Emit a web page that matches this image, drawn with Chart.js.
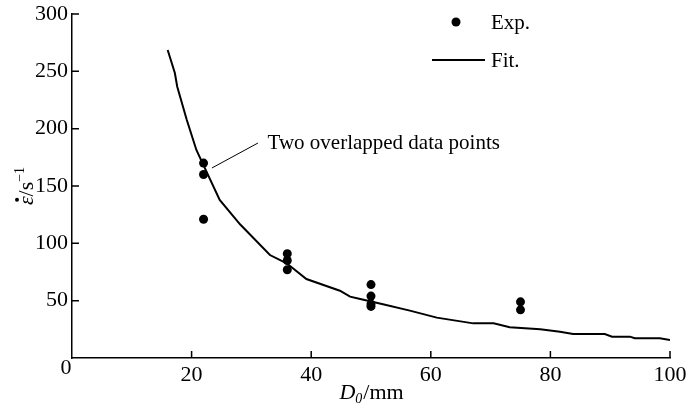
<!DOCTYPE html>
<html>
<head>
<meta charset="utf-8">
<script src="https://cdn.jsdelivr.net/npm/chart.js@4"></script>
<style>
  html, body { margin: 0; padding: 0; background: #fff; }
  #wrap { width: 686px; height: 409px; }
</style>
</head>
<body>
<div id="wrap"><canvas id="chart" width="686" height="409"></canvas></div>
<script>
const EXP_X = [22, 22, 22, 36, 36, 36, 50, 50, 50, 50, 75, 75];
const EXP_Y = [170, 160, 121, 91, 85, 77, 64, 54, 47, 45, 49, 42];

const FIT_X = [16, 17.2, 17.6, 19.2, 20.8, 22, 24.7, 28.1, 33.1, 35.9, 39.2, 44.8, 46.5, 48.2, 52, 56.5, 61, 67.1, 70.5, 73.2, 78.3, 81.6, 83.8, 89.1, 90.3, 93.3, 94.1, 98.3, 100];
const FIT_Y = [268.6, 248.5, 236.6, 207.5, 181.4, 168, 137.8, 116.6, 89.8, 82.6, 68.9, 58.7, 53.5, 51.5, 46.8, 41.3, 35.2, 30.2, 30.2, 26.8, 25, 22.9, 20.9, 20.9, 18.6, 18.6, 17.2, 17.2, 15.7];

const X_TICKS = [20, 40, 60, 80, 100];
const Y_TICKS = [50, 100, 150, 200, 250, 300];

const NOTE = "Two overlapped data points";
const SERIF = "'Liberation Serif', 'Times New Roman', serif";

Chart.defaults.font.family = SERIF;
Chart.defaults.font.size = 22;
Chart.defaults.color = "#000";

// inward ticks, axis titles, legend and the note
const extras = {
  id: "extras",
  afterDraw(chart) {
    const { ctx, scales: { x, y } } = chart;
    const x0 = x.getPixelForValue(0);
    const y0 = y.getPixelForValue(0);
    ctx.save();
    ctx.strokeStyle = "#000";
    ctx.lineWidth = 1.5;
    ctx.beginPath();
    X_TICKS.forEach(v => {
      const px = x.getPixelForValue(v);
      ctx.moveTo(px, y0);
      ctx.lineTo(px, y0 - 7);
    });
    Y_TICKS.forEach(v => {
      const py = y.getPixelForValue(v);
      ctx.moveTo(x0, py);
      ctx.lineTo(x0 + 7, py);
    });
    ctx.stroke();

    ctx.fillStyle = "#000";
    ctx.textBaseline = "middle";
    ctx.textAlign = "center";
    ctx.font = `22px ${SERIF}`;
    ctx.fillText("0", x0 - 6, y0 + 10);

    // x title: D0/mm
    ctx.textAlign = "left";
    ctx.textBaseline = "alphabetic";
    const base = 399;
    ctx.font = `italic 22px ${SERIF}`;
    const wD = ctx.measureText("D").width;
    ctx.font = `italic 14px ${SERIF}`;
    const w0 = ctx.measureText("0").width;
    ctx.font = `22px ${SERIF}`;
    const wR = ctx.measureText("/mm").width;
    let tx = x.getPixelForValue(50) - (wD + w0 + wR) / 2;
    ctx.font = `italic 22px ${SERIF}`;
    ctx.fillText("D", tx, base);
    tx += wD;
    ctx.font = `italic 14px ${SERIF}`;
    ctx.fillText("0", tx, base + 4);
    tx += w0 + 1;
    ctx.font = `22px ${SERIF}`;
    ctx.fillText("/mm", tx, base);

    // y title: ε̇/s⁻¹ rotated
    ctx.save();
    ctx.translate(33, y.getPixelForValue(150));
    ctx.rotate(-Math.PI / 2);
    ctx.font = `italic 22px ${SERIF}`;
    const wE = ctx.measureText("\u03b5").width;
    ctx.font = `22px ${SERIF}`;
    const wS = ctx.measureText("/s").width;
    ctx.font = `14px ${SERIF}`;
    const wM = ctx.measureText("\u22121").width;
    let ty = -(wE + wS + wM) / 2;
    ctx.font = `italic 22px ${SERIF}`;
    ctx.fillText("\u03b5", ty, 0);
    ctx.beginPath();
    ctx.arc(ty + wE / 2 + 1, -16, 2, 0, Math.PI * 2);
    ctx.fill();
    ty += wE;
    ctx.font = `22px ${SERIF}`;
    ctx.fillText("/s", ty, 0);
    ty += wS;
    ctx.font = `14px ${SERIF}`;
    ctx.fillText("\u22121", ty, -9);
    ctx.restore();

    // legend
    ctx.font = `21px ${SERIF}`;
    ctx.textBaseline = "middle";
    ctx.beginPath();
    ctx.arc(456, 22, 4.5, 0, Math.PI * 2);
    ctx.fill();
    ctx.fillText("Exp.", 491, 23);
    ctx.lineWidth = 2;
    ctx.beginPath();
    ctx.moveTo(432, 60);
    ctx.lineTo(485, 60);
    ctx.stroke();
    ctx.fillText("Fit.", 491, 61);

    // note with leader line
    ctx.lineWidth = 1;
    ctx.beginPath();
    ctx.moveTo(x.getPixelForValue(23.4), y.getPixelForValue(165.7));
    ctx.lineTo(x.getPixelForValue(31.1), y.getPixelForValue(187.5));
    ctx.stroke();
    ctx.fillText(NOTE, x.getPixelForValue(32.7), y.getPixelForValue(187.5));
    ctx.restore();
  },
};

new Chart(document.getElementById("chart"), {
  type: "scatter",
  data: {
    datasets: [
      {
        label: "Exp.",
        data: EXP_X.map((v, i) => ({ x: v, y: EXP_Y[i] })),
        backgroundColor: "#000",
        borderColor: "#000",
        pointRadius: 4.5,
        pointBorderWidth: 0,
      },
      {
        label: "Fit.",
        data: FIT_X.map((v, i) => ({ x: v, y: FIT_Y[i] })),
        showLine: true,
        borderColor: "#000",
        borderWidth: 2,
        pointRadius: 0,
        tension: 0,
      },
    ],
  },
  options: {
    responsive: false,
    animation: false,
    layout: { padding: { top: 14, right: 16, left: 0, bottom: 0 } },
    plugins: { legend: { display: false }, tooltip: { enabled: false } },
    scales: {
      x: {
        type: "linear",
        min: 0,
        max: 100,
        afterFit(s) { s.height = 51; s.paddingLeft = 0; s.paddingRight = 16; },
        ticks: {
          stepSize: 20,
          padding: 4,
          callback: v => (v === 0 ? "" : v),
        },
        grid: { display: false, drawTicks: false, tickLength: 0 },
        border: { display: true, color: "#000", width: 1.5 },
      },
      y: {
        min: 0,
        max: 300,
        afterFit(s) { s.width = 72; s.paddingTop = 0; s.paddingBottom = 0; },
        ticks: {
          stepSize: 50,
          padding: 4,
          callback: v => (v === 0 ? "" : v),
        },
        grid: { display: false, drawTicks: false, tickLength: 0 },
        border: { display: true, color: "#000", width: 1.5 },
      },
    },
  },
  plugins: [extras],
});
</script>
</body>
</html>
